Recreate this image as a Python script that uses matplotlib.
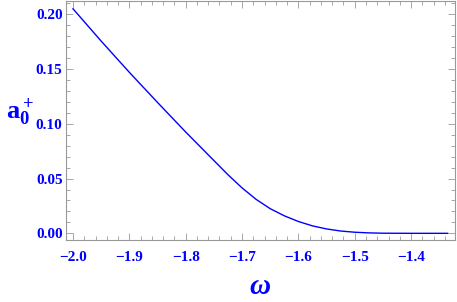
import matplotlib
matplotlib.use("Agg")
import matplotlib.pyplot as plt
from matplotlib.ticker import MultipleLocator

omega = [-2.0, -1.95, -1.9, -1.85, -1.8, -1.775, -1.75, -1.725, -1.7, -1.675,
         -1.65, -1.625, -1.6, -1.575, -1.55, -1.525, -1.5, -1.475, -1.45, -1.4, -1.335]
a0p = [0.205, 0.1755, 0.147, 0.1195, 0.0925, 0.0795, 0.0665, 0.0535, 0.0415, 0.0310,
       0.0225, 0.0160, 0.0108, 0.0068, 0.0040, 0.0021, 0.0010, 0.0004, 0.0001, 0.0, 0.0]

plt.rcParams['mathtext.fontset'] = 'custom'
plt.rcParams['mathtext.rm'] = 'Liberation Serif'
plt.rcParams['mathtext.bf'] = 'Liberation Serif:bold'
plt.rcParams['mathtext.it'] = 'Liberation Serif:italic:bold'

fig = plt.figure(figsize=(4.57, 3.02), dpi=100)
ax = fig.add_axes([66/457, 1-240/302, (455-66)/457, 239/302])
ax.plot(omega, a0p, color='#0000ff', lw=1.0)

ax.set_xlim(-2.0124, -1.322)
ax.set_ylim(-0.0061, 0.2121)
ax.xaxis.set_major_locator(MultipleLocator(0.1))
ax.xaxis.set_minor_locator(MultipleLocator(0.02))
ax.yaxis.set_major_locator(MultipleLocator(0.05))
ax.yaxis.set_minor_locator(MultipleLocator(0.01))
ax.xaxis.set_major_formatter(plt.FuncFormatter(lambda v, p: f"\u2212{abs(v):.1f}" if v < 0 else f"{v:.1f}"))
ax.yaxis.set_major_formatter(plt.FuncFormatter(lambda v, p: f"{v:.2f}"))

gray = '#999999'
for s in ax.spines.values():
    s.set_color(gray)
    s.set_linewidth(0.8)
ax.tick_params(which='both', direction='in', top=True, right=True, color=gray,
               labelcolor='#0000ff', width=0.6)
ax.tick_params(which='major', length=5, labelsize=11)
ax.tick_params(which='minor', length=3)
ax.tick_params(axis='x', which='major', pad=8)
ax.tick_params(axis='y', which='major', pad=2.5)
for lab in ax.get_xticklabels() + ax.get_yticklabels():
    lab.set_fontfamily('Liberation Serif')
    lab.set_fontweight('bold')

fig.text(20/457, 1-112/302, r'$\mathbf{a_0^+}$', color='#0000ff', fontsize=19,
         ha='center', va='center')
fig.text(260/457, 1-287/302, 'ω', color='#0000ff', fontsize=21,
         family='Liberation Serif', style='italic', weight='bold',
         ha='center', va='center')

fig.savefig('out.png', dpi=100)
